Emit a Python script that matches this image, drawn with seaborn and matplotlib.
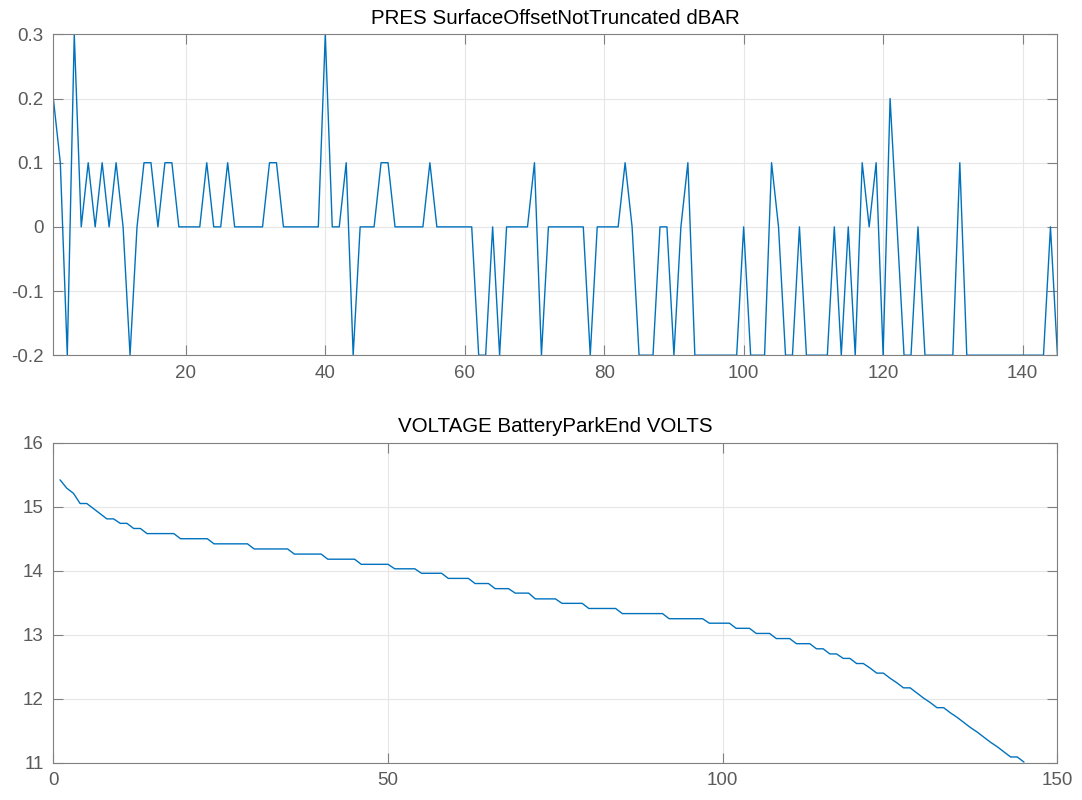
import matplotlib
matplotlib.use("Agg")
import matplotlib.pyplot as plt
import seaborn as sns
import pandas as pd

# ── Chart data ──────────────────────────────────────────────────────────────
pres_title = "PRES SurfaceOffsetNotTruncated dBAR"
volt_title = "VOLTAGE BatteryParkEnd VOLTS"

profile_number = list(range(1, 146))

pres_offset = [
    0.2, 0.1, -0.2, 0.3, 0, 0.1, 0, 0.1, 0, 0.1,
    0, -0.2, 0, 0.1, 0.1, 0, 0.1, 0.1, 0, 0,
    0, 0, 0.1, 0, 0, 0.1, 0, 0, 0, 0,
    0, 0.1, 0.1, 0, 0, 0, 0, 0, 0, 0.3,
    0, 0, 0.1, -0.2, 0, 0, 0, 0.1, 0.1, 0,
    0, 0, 0, 0, 0.1, 0, 0, 0, 0, 0,
    0, -0.2, -0.2, 0, -0.2, 0, 0, 0, 0, 0.1,
    -0.2, 0, 0, 0, 0, 0, 0, -0.2, 0, 0,
    0, 0, 0.1, 0, -0.2, -0.2, -0.2, 0, 0, -0.2,
    0, 0.1, -0.2, -0.2, -0.2, -0.2, -0.2, -0.2, -0.2, 0,
    -0.2, -0.2, -0.2, 0.1, 0, -0.2, -0.2, 0, -0.2, -0.2,
    -0.2, -0.2, 0, -0.2, 0, -0.2, 0.1, 0, 0.1, -0.2,
    0.2, 0, -0.2, -0.2, 0, -0.2, -0.2, -0.2, -0.2, -0.2,
    0.1, -0.2, -0.2, -0.2, -0.2, -0.2, -0.2, -0.2, -0.2, -0.2,
    -0.2, -0.2, -0.2, 0, -0.2,
]

battery_volts = [
    15.42, 15.29, 15.21, 15.05, 15.05, 14.97, 14.89, 14.81, 14.81, 14.74,
    14.74, 14.66, 14.66, 14.58, 14.58, 14.58, 14.58, 14.58, 14.50, 14.50,
    14.50, 14.50, 14.50, 14.42, 14.42, 14.42, 14.42, 14.42, 14.42, 14.34,
    14.34, 14.34, 14.34, 14.34, 14.34, 14.26, 14.26, 14.26, 14.26, 14.26,
    14.18, 14.18, 14.18, 14.18, 14.18, 14.10, 14.10, 14.10, 14.10, 14.10,
    14.03, 14.03, 14.03, 14.03, 13.96, 13.96, 13.96, 13.96, 13.88, 13.88,
    13.88, 13.88, 13.80, 13.80, 13.80, 13.72, 13.72, 13.72, 13.65, 13.65,
    13.65, 13.56, 13.56, 13.56, 13.56, 13.49, 13.49, 13.49, 13.49, 13.41,
    13.41, 13.41, 13.41, 13.41, 13.33, 13.33, 13.33, 13.33, 13.33, 13.33,
    13.33, 13.25, 13.25, 13.25, 13.25, 13.25, 13.25, 13.18, 13.18, 13.18,
    13.18, 13.10, 13.10, 13.10, 13.02, 13.02, 13.02, 12.94, 12.94, 12.94,
    12.86, 12.86, 12.86, 12.78, 12.78, 12.70, 12.70, 12.63, 12.63, 12.55,
    12.55, 12.48, 12.40, 12.40, 12.32, 12.25, 12.17, 12.17, 12.09, 12.01,
    11.94, 11.86, 11.86, 11.78, 11.71, 11.63, 11.55, 11.48, 11.40, 11.32,
    11.25, 11.17, 11.09, 11.09, 11.01,
]

pres_xticks = [20, 40, 60, 80, 100, 120, 140]
pres_yticks = [-0.2, -0.1, 0, 0.1, 0.2, 0.3]
pres_yticklabels = ["-0.2", "-0.1", "0", "0.1", "0.2", "0.3"]
volt_xticks = [0, 50, 100, 150]
volt_yticks = [11, 12, 13, 14, 15, 16]

pres_df = pd.DataFrame({"profile": profile_number, "offset": pres_offset})
volt_df = pd.DataFrame({"profile": profile_number, "volts": battery_volts})

# ── Style: MATLAB-like figure ───────────────────────────────────────────────
sns.set_style("whitegrid")
plt.rcParams["font.family"] = ["Liberation Sans", "DejaVu Sans"]

LINE_BLUE = "#0072BD"
FRAME = "#808080"
GRID = "#e6e6e6"
LABEL = "#5a5a5a"


def matlab_look(ax):
    ax.set_facecolor("white")
    for sp in ax.spines.values():
        sp.set_visible(True)
        sp.set_color(FRAME)
        sp.set_linewidth(0.8)
    ax.grid(True, color=GRID, linewidth=0.8)
    ax.tick_params(direction="in", length=7, width=0.8, color=FRAME,
                   labelcolor=LABEL, labelsize=13.5,
                   bottom=True, left=True, top=True, right=True)
    ax.tick_params(axis="x", pad=7)
    ax.tick_params(axis="y", pad=7)
    ax.set_xlabel("")
    ax.set_ylabel("")


fig = plt.figure(figsize=(10.82, 8), dpi=100)
ax1 = fig.add_axes([0.0493, 0.556, 0.928, 0.401])
ax2 = fig.add_axes([0.0493, 0.0466, 0.928, 0.400])

# Top panel: surface pressure offset
sns.lineplot(data=pres_df, x="profile", y="offset", ax=ax1,
             color=LINE_BLUE, linewidth=1.0)
ax1.set_xlim(1, 145)
ax1.set_ylim(-0.2, 0.3)
ax1.set_xticks(pres_xticks)
ax1.set_yticks(pres_yticks)
ax1.set_yticklabels(pres_yticklabels)
matlab_look(ax1)
ax1.set_title(pres_title, fontsize=14.8, pad=7.5, color="black")

# Bottom panel: battery voltage at park end
sns.lineplot(data=volt_df, x="profile", y="volts", ax=ax2,
             color=LINE_BLUE, linewidth=1.0)
ax2.set_xlim(0, 150)
ax2.set_ylim(11, 16)
ax2.set_xticks(volt_xticks)
ax2.set_yticks(volt_yticks)
matlab_look(ax2)
ax2.set_title(volt_title, fontsize=14.8, pad=7.5, color="black")

fig.savefig("out.png", dpi=100)
plt.close(fig)
